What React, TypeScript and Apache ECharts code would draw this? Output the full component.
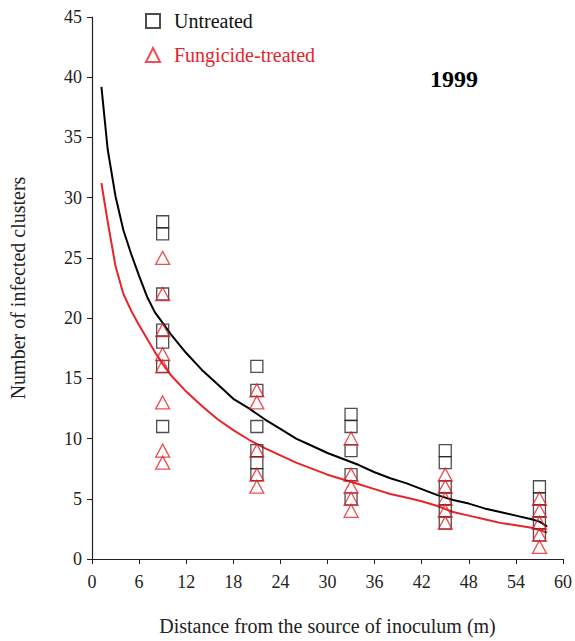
import React, { useEffect, useRef } from "react";
import * as echarts from "echarts";

// Observed counts at each sampling distance (m)
const distances = [9, 21, 33, 45, 57];
const untreatedCounts = [
  [28, 27, 22, 19, 18, 16, 11],
  [16, 14, 11, 9, 8, 7],
  [12, 11, 9, 7, 5],
  [9, 8, 6, 5, 4, 3],
  [6, 5, 4, 3, 2],
];
const treatedCounts = [
  [25, 22, 19, 17, 16, 13, 9, 8],
  [14, 13, 9, 7, 6],
  [10, 7, 6, 5, 4],
  [7, 6, 5, 4, 3],
  [5, 4, 3, 2, 1],
];

// Fitted dispersal gradients
const fitX = [1.2, 2, 3, 4, 5, 6, 7, 8, 9, 10, 12, 14, 16, 18, 20, 22, 24, 26, 28, 30, 32, 34, 36, 38, 40, 42, 44, 46, 48, 50, 52, 54, 56, 57, 58];
const untreatedFit = [39.2, 34, 30.1, 27.3, 25.3, 23.5, 21.8, 20.5, 19.6, 18.7, 17.1, 15.7, 14.5, 13.3, 12.5, 11.6, 10.8, 10.0, 9.4, 8.8, 8.3, 7.8, 7.2, 6.7, 6.3, 5.8, 5.3, 4.9, 4.6, 4.2, 3.9, 3.6, 3.3, 3.1, 2.7];
const treatedFit = [31.2, 28.0, 24.3, 22.0, 20.6, 19.4, 18.3, 17.2, 16.2, 15.3, 13.9, 12.7, 11.6, 10.7, 9.9, 9.2, 8.6, 8.0, 7.5, 7.0, 6.6, 6.2, 5.8, 5.4, 5.1, 4.8, 4.4, 3.9, 3.6, 3.3, 3.0, 2.8, 2.6, 2.4, 2.2];

const xTicks = { min: 0, max: 60, interval: 6 };
const yTicks = { min: 0, max: 45, interval: 5 };

const FONT = "'Liberation Serif', 'Times New Roman', serif";
const RED = "#e8232a";

function points(groups: number[][]) {
  const out: number[][] = [];
  groups.forEach((vals, i) => vals.forEach((v) => out.push([distances[i], v])));
  return out;
}

export default function App() {
  const ref = useRef<HTMLDivElement>(null);

  useEffect(() => {
    if (!ref.current) return;
    const chart = echarts.init(ref.current, undefined, { renderer: "svg" });
    chart.setOption({
      animation: false,
      backgroundColor: "#ffffff",
      textStyle: { fontFamily: FONT },
      grid: { left: 88, right: 11, top: 17, bottom: 79 },
      legend: {
        orient: "vertical",
        left: 140,
        top: 6,
        itemGap: 14,
        itemWidth: 14,
        itemHeight: 14,
        textStyle: { fontFamily: FONT, fontSize: 20, padding: [0, 0, 0, 9] },
        data: [
          { name: "Untreated", textStyle: { color: "#111" } },
          { name: "Fungicide-treated", textStyle: { color: RED } },
        ],
      },
      graphic: [
        {
          type: "text",
          left: 430,
          top: 67,
          style: { text: "1999", fontFamily: FONT, fontSize: 24, fontWeight: "bold", fill: "#000" },
        },
      ],
      xAxis: {
        type: "value",
        ...xTicks,
        name: "Distance from the source of inoculum (m)",
        nameLocation: "middle",
        nameGap: 57,
        nameTextStyle: { fontFamily: FONT, fontSize: 20, color: "#222" },
        axisLine: { lineStyle: { color: "#222", width: 1.2 } },
        axisTick: { show: true, length: 5, lineStyle: { color: "#222" } },
        axisLabel: { fontFamily: FONT, fontSize: 18, color: "#222", margin: 14 },
        splitLine: { show: false },
      },
      yAxis: {
        type: "value",
        ...yTicks,
        name: "Number of infected clusters",
        nameLocation: "middle",
        nameGap: 64,
        nameRotate: 90,
        nameTextStyle: { fontFamily: FONT, fontSize: 20, color: "#222" },
        axisLine: { show: true, lineStyle: { color: "#222", width: 1.2 } },
        axisTick: { show: true, length: 5, lineStyle: { color: "#222" } },
        axisLabel: { fontFamily: FONT, fontSize: 18, color: "#222", margin: 10 },
        splitLine: { show: false },
      },
      series: [
        {
          name: "Untreated",
          type: "scatter",
          symbol: "rect",
          symbolSize: 12,
          data: points(untreatedCounts),
          itemStyle: { color: "rgba(255,255,255,0)", borderColor: "#222", borderWidth: 1.3 },
          z: 3,
        },
        {
          name: "Fungicide-treated",
          type: "scatter",
          symbol: "triangle",
          symbolSize: [14, 13],
          data: points(treatedCounts),
          itemStyle: { color: "rgba(255,255,255,0)", borderColor: RED, borderWidth: 1.3 },
          z: 4,
        },
        {
          name: "untreated-fit",
          type: "line",
          showSymbol: false,
          symbol: "none",
          data: fitX.map((x, i) => [x, untreatedFit[i]]),
          lineStyle: { color: "#000", width: 2 },
          z: 2,
        },
        {
          name: "treated-fit",
          type: "line",
          showSymbol: false,
          symbol: "none",
          data: fitX.map((x, i) => [x, treatedFit[i]]),
          lineStyle: { color: RED, width: 2 },
          z: 2,
        },
      ],
    });
    return () => chart.dispose();
  }, []);

  return (
    <div
      ref={ref}
      style={{ position: "fixed", left: 0, top: 0, width: 575, height: 641, background: "#fff" }}
    />
  );
}
